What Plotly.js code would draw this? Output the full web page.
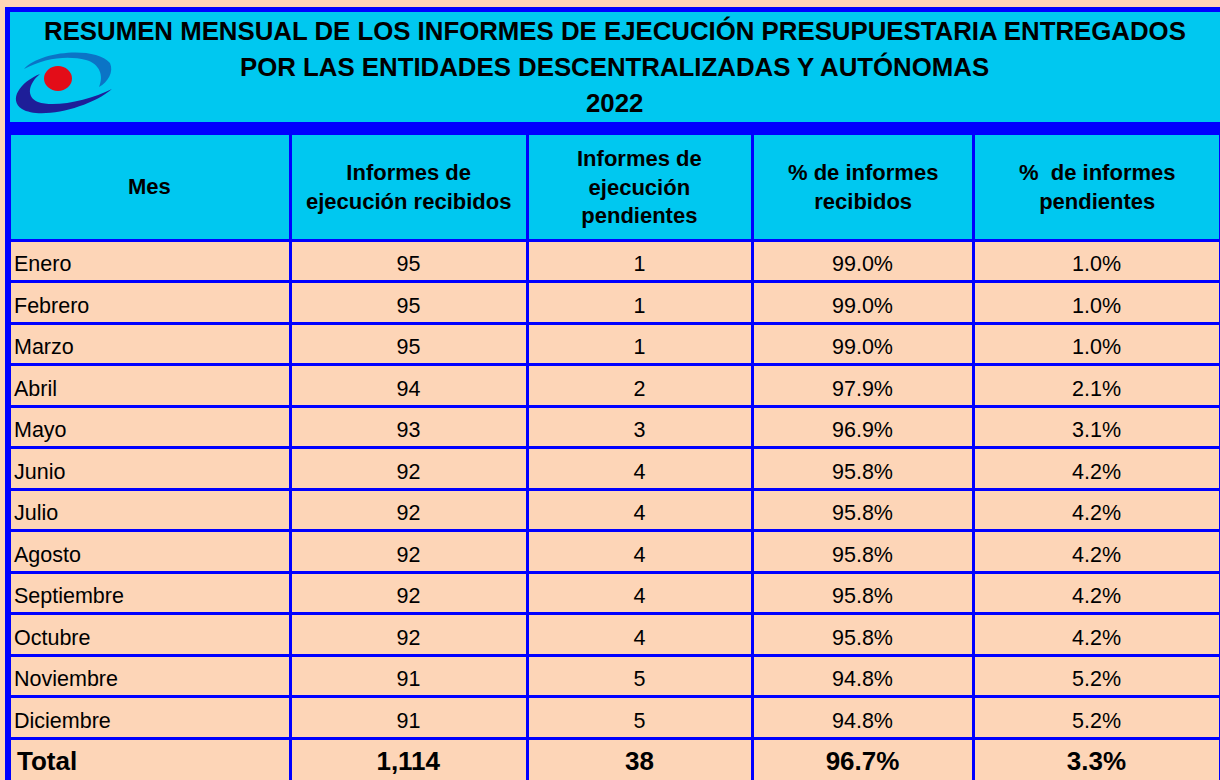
<!DOCTYPE html>
<html>
<head>
<meta charset="utf-8">
<script src="https://cdn.plot.ly/plotly-3.0.1.min.js"></script>
<style>html,body{margin:0;padding:0;background:#fdd5b7;}#chart{width:1220px;height:780px;}</style>
</head>
<body>
<div id="chart"></div>
<script>
// ---- data ----
const titleLines = [
  'RESUMEN MENSUAL DE LOS INFORMES DE EJECUCIÓN PRESUPUESTARIA ENTREGADOS',
  'POR LAS ENTIDADES DESCENTRALIZADAS Y AUTÓNOMAS',
  '2022'
];
const headers = [
  'Mes',
  'Informes de<br>ejecución recibidos',
  'Informes de<br>ejecución<br>pendientes',
  '% de informes<br>recibidos',
  '%\u00a0 de informes<br>pendientes'
];
const meses = ['Enero','Febrero','Marzo','Abril','Mayo','Junio','Julio','Agosto','Septiembre','Octubre','Noviembre','Diciembre'];
const recibidos = [95,95,95,94,93,92,92,92,92,92,91,91];
const pendientes = [1,1,1,2,3,4,4,4,4,4,5,5];
const pctRecibidos = [99.0,99.0,99.0,97.9,96.9,95.8,95.8,95.8,95.8,95.8,94.8,94.8];
const pctPendientes = [1.0,1.0,1.0,2.1,3.1,4.2,4.2,4.2,4.2,4.2,5.2,5.2];
const totalLabel = 'Total';
const totalRecibidos = 1114;
const totalPendientes = 38;
const totalPctRecibidos = 96.7;
const totalPctPendientes = 3.3;

// ---- helpers ----
const W = 1220, H = 780;
const X = p => p / W;
const Y = p => 1 - p / H;
const pt = (x, y) => X(x).toFixed(5) + ',' + Y(y).toFixed(5);
const fmtInt = v => v.toLocaleString('en-US');
const fmtPct = v => v.toFixed(1) + '%';
const B = s => '<b>' + s + '</b>';

const BLUE = '#0000ff', CYAN = '#00c8f0', PEACH = '#fdd5b7';
const FAMILY = 'Liberation Sans, Arial, sans-serif';
const CLEAR = 'rgba(0,0,0,0)';

const colWidths = [281, 237, 225, 221, 247];
const tableLeft = 9, tableTop = 133, headerH = 107, rowH = 41.5;
const nCols = colWidths.length;
const blankCol = n => Array.from({length: n}, () => '');

// month rows (text layer) and total row (on frame table)
const monthCols = [
  meses,
  recibidos.map(fmtInt),
  pendientes.map(fmtInt),
  pctRecibidos.map(fmtPct),
  pctPendientes.map(fmtPct)
];
const totalRow = [
  B(totalLabel),
  B(fmtInt(totalRecibidos)),
  B(fmtInt(totalPendientes)),
  B(fmtPct(totalPctRecibidos)),
  B(fmtPct(totalPctPendientes))
];
const aligns = ['left', 'center', 'center', 'center', 'center'];

// frame table: fills, borders, total row
const frame = {
  type: 'table',
  domain: {x: [X(tableLeft), 1], y: [0, Y(tableTop)]},
  columnwidth: colWidths,
  header: {
    values: blankCol(nCols),
    height: headerH,
    fill: {color: CYAN},
    line: {color: BLUE, width: 3},
    font: {family: FAMILY, size: 22, color: '#000'}
  },
  cells: {
    values: totalRow.map(v => blankCol(meses.length).concat([v])),
    align: aligns,
    height: rowH,
    fill: {color: PEACH},
    line: {color: BLUE, width: 3},
    font: {family: FAMILY, size: 26, color: '#000'}
  }
};

// text layer for the month rows (transparent, nudged to centre the text)
const textShift = 7;
const textLayer = {
  type: 'table',
  domain: {x: [X(tableLeft - 3), 1], y: [0, Y(tableTop)]},
  columnwidth: [colWidths[0] + 3].concat(colWidths.slice(1)),
  header: {
    values: blankCol(nCols),
    height: headerH + textShift,
    fill: {color: CLEAR},
    line: {color: CLEAR, width: 0}
  },
  cells: {
    values: monthCols,
    align: aligns,
    height: rowH,
    fill: {color: CLEAR},
    line: {color: CLEAR, width: 0},
    font: {family: FAMILY, size: 21.5, color: '#000'}
  }
};

const shapes = [
  {type: 'rect', xref: 'paper', yref: 'paper', x0: X(5), x1: X(1220), y0: Y(133), y1: Y(7), fillcolor: BLUE, line: {width: 0}, layer: 'below'},
  {type: 'rect', xref: 'paper', yref: 'paper', x0: X(10), x1: X(1220), y0: Y(122), y1: Y(12), fillcolor: CYAN, line: {width: 0}, layer: 'below'},
  {type: 'rect', xref: 'paper', yref: 'paper', x0: X(5), x1: X(10), y0: Y(780), y1: Y(7), fillcolor: BLUE, line: {width: 0}, layer: 'above'},
  {type: 'path', xref: 'paper', yref: 'paper', fillcolor: '#0b74c6', line: {width: 0}, layer: 'above',
   path: 'M' + pt(24,69) + ' C' + pt(40,51) + ' ' + pt(95,46) + ' ' + pt(110,63) +
         ' C' + pt(114,72) + ' ' + pt(108,82) + ' ' + pt(99,87) +
         ' C' + pt(104,76) + ' ' + pt(100,64) + ' ' + pt(86,60) +
         ' C' + pt(68,55) + ' ' + pt(44,58) + ' ' + pt(24,69) + ' Z'},
  {type: 'path', xref: 'paper', yref: 'paper', fillcolor: '#1e1e98', line: {width: 0}, layer: 'above',
   path: 'M' + pt(40,74) + ' C' + pt(20,82) + ' ' + pt(8,100) + ' ' + pt(22,109) +
         ' C' + pt(40,120) + ' ' + pt(90,108) + ' ' + pt(112,89) +
         ' C' + pt(90,100) + ' ' + pt(55,108) + ' ' + pt(38,102) +
         ' C' + pt(26,97) + ' ' + pt(28,84) + ' ' + pt(40,74) + ' Z'},
  {type: 'circle', xref: 'paper', yref: 'paper', x0: X(44), x1: X(72), y0: Y(91), y1: Y(66), fillcolor: '#e30d18', line: {width: 0}, layer: 'above'}
];

const tfont = {family: FAMILY, size: 25.8, color: '#000'};
const titleY = [31, 66, 103];
const annotations = titleLines.map((t, i) => ({
  text: B(t), x: X(615), y: Y(titleY[i]), xref: 'paper', yref: 'paper',
  showarrow: false, font: tfont, xanchor: 'center', yanchor: 'middle'
}));

// header labels centred in their cells
const totalW = colWidths.reduce((a, b) => a + b, 0);
const span = W - tableLeft;
let acc = 0;
headers.forEach((h, i) => {
  const x0 = tableLeft + span * acc / totalW;
  acc += colWidths[i];
  const x1 = tableLeft + span * acc / totalW;
  annotations.push({
    text: B(h), x: X((x0 + x1) / 2), y: Y(tableTop + headerH / 2), xref: 'paper', yref: 'paper',
    showarrow: false, align: 'center', xanchor: 'center', yanchor: 'middle',
    font: {family: FAMILY, size: 22, color: '#000'}
  });
});

const layout = {
  width: W, height: H,
  margin: {l: 0, r: 0, t: 0, b: 0},
  paper_bgcolor: PEACH,
  plot_bgcolor: PEACH,
  shapes: shapes,
  annotations: annotations,
  showlegend: false
};

Plotly.newPlot('chart', [frame, textLayer], layout, {displayModeBar: false, staticPlot: true});
</script>
</body>
</html>
